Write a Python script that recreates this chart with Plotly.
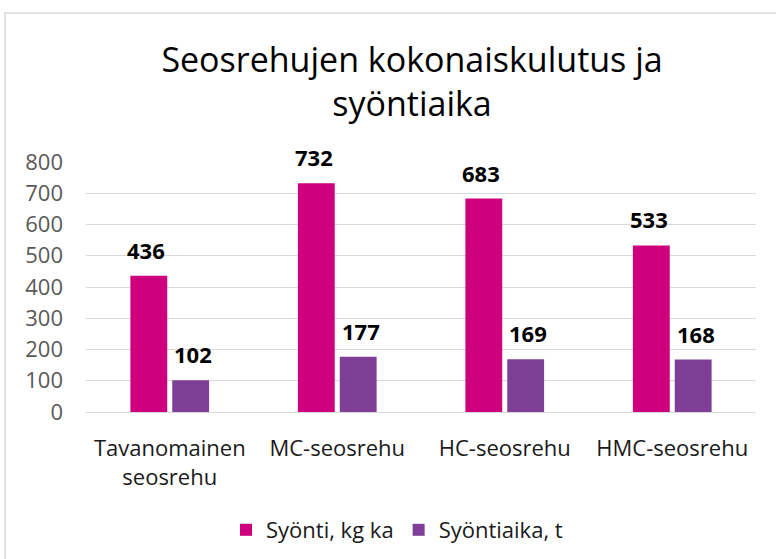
import plotly.graph_objects as go

categories = ["Tavanomainen<br>seosrehu", "MC-seosrehu", "HC-seosrehu", "HMC-seosrehu"]
syonti = [436, 732, 683, 533]
syontiaika = [102, 177, 169, 168]
series_names = ["Syönti, kg ka", "Syöntiaika, t"]
colors = ["#CE007E", "#7F3F97"]
y_ticks = [0, 100, 200, 300, 400, 500, 600, 700, 800]

FONT = "Open Sans"

fig = go.Figure()
for name, vals, col in zip(series_names, [syonti, syontiaika], colors):
    fig.add_trace(go.Bar(
        x=categories, y=vals, name=name,
        marker=dict(color=col, line=dict(width=0)),
    ))

# data labels above the bars
shifts = [-23.5, 23.5]
for vals, sh in zip([syonti, syontiaika], shifts):
    for c, v in zip(categories, vals):
        fig.add_annotation(
            x=c, y=v, xref="x", yref="y", text=f"<b>{v}</b>",
            showarrow=False, xshift=sh, yanchor="bottom", yshift=9,
            font=dict(family=FONT, size=22, color="#000000"),
        )

# chart border (left and top visible)
fig.add_shape(type="rect", xref="paper", yref="paper",
              x0=-0.1209, x1=1.2, y0=-0.8, y1=1.596,
              line=dict(color="#D9D9D9", width=1.5), layer="below")

fig.update_layout(
    width=776, height=559,
    margin=dict(l=86, r=20, t=162, b=147, autoexpand=False),
    paper_bgcolor="white", plot_bgcolor="white",
    barmode="group", bargap=0.5, bargroupgap=0.12,
    title=dict(
        text="Seosrehujen kokonaiskulutus ja<br>syöntiaika",
        x=412 / 776, xanchor="center", y=1 - 72 / 559, yanchor="top",
        font=dict(family=FONT, size=34, color="#000000"),
    ),
    xaxis=dict(
        tickfont=dict(family=FONT, size=22, color="#1a1a1a"),
        showgrid=False, showline=False, ticks="", ticklabelstandoff=21,
        automargin=False,
    ),
    yaxis=dict(
        range=[0, 800], tickvals=y_ticks,
        tickfont=dict(family=FONT, size=22, color="#595959"),
        gridcolor="#D9D9D9", gridwidth=1, zeroline=True,
        zerolinecolor="#D9D9D9", zerolinewidth=1,
        showline=False, ticks="", ticklabelstandoff=22,
        automargin=False,
    ),
    legend=dict(
        orientation="h", x=397 / 776, xanchor="center", xref="container",
        y=1 - 530 / 559, yanchor="middle", yref="container",
        font=dict(family=FONT, size=22, color="#1a1a1a"),
        itemwidth=30,
    ),
)

fig.write_html("out.html", config={"displayModeBar": False},
               post_script="document.body.style.margin='0';document.body.style.overflow='hidden';")
